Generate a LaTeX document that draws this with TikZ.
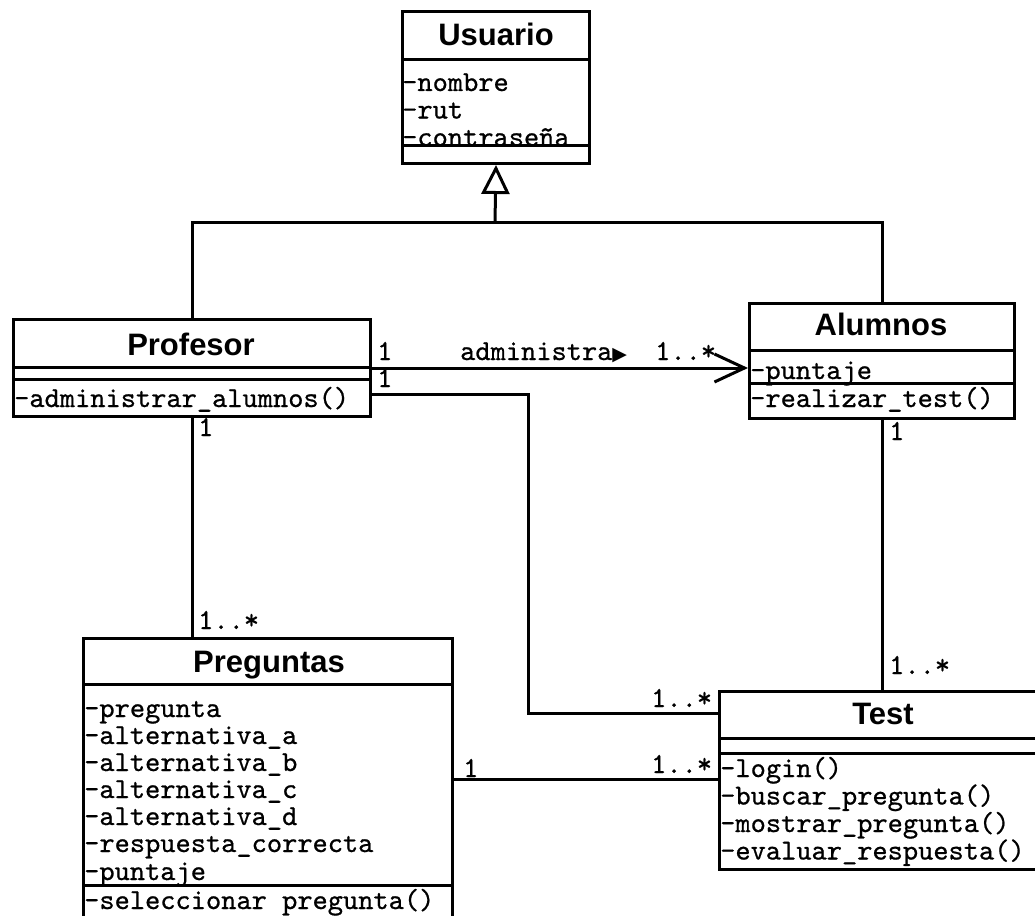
\documentclass[tikz,border=0pt]{standalone}
\usepackage{fontspec}
\newfontfamily\titlefont{Liberation Sans}
\newfontfamily\symfont{DejaVu Sans}
\newfontfamily\memfont[FakeBold=0.7]{lmmono10-regular.otf}
\usetikzlibrary{arrows.meta}

\tikzset{
  conn/.style={line width=3pt},
  classbox/.style={draw, line width=3pt, fill=white, inner sep=0pt, anchor=north west},
  ctitle/.style={font=\titlefont\bfseries\fontsize{31}{31}\selectfont, inner sep=0pt, anchor=base},
  member/.style={font=\memfont\fontsize{29}{30}\selectfont, anchor=base west, inner sep=0pt},
  mult/.style={font=\memfont\fontsize{29}{30}\selectfont, anchor=base west, inner sep=0pt},
}

\begin{document}
\begin{tikzpicture}[x=1pt,y=-1pt]
\useasboundingbox (0,0) rectangle (1035,915);
\fill[white] (0,0) rectangle (1035,915);
\clip (0,0) rectangle (1035,915);

% ---------- class boxes ----------
\node[classbox, minimum width=187pt, minimum height=152pt] (usu) at (401,10) {};
\node[classbox, minimum width=357pt, minimum height=97pt] (prof) at (12,318) {};
\node[classbox, minimum width=265pt, minimum height=115pt] (alum) at (748,302) {};
\node[classbox, minimum width=369pt, minimum height=300pt] (preg) at (82,637) {};
\node[classbox, minimum width=330pt, minimum height=178pt] (test) at (718,690) {};

% compartments
\draw[conn] (usu.west |- 0,60) -- (usu.east |- 0,60);
\draw[conn] (usu.west |- 0,145) -- (usu.east |- 0,145);
\draw[conn] (prof.west |- 0,367) -- (prof.east |- 0,367);
\draw[conn] (prof.west |- 0,379) -- (prof.east |- 0,379);
\draw[conn] (alum.west |- 0,350) -- (alum.east |- 0,350);
\draw[conn] (alum.west |- 0,383) -- (alum.east |- 0,383);
\draw[conn] (preg.west |- 0,684) -- (preg.east |- 0,684);
\draw[conn] (preg.west |- 0,885) -- (preg.east |- 0,885);
\draw[conn] (test.west |- 0,738) -- (test.east |- 0,738);
\draw[conn] (test.west |- 0,753) -- (test.east |- 0,753);

% titles
\node[ctitle] (usuT) at (496,46) {Usuario};
\node[ctitle] (profT) at (191,355) {Profesor};
\node[ctitle] (alumT) at (881,335) {Alumnos};
\node[ctitle] (pregT) at (269,672) {Preguntas};
\node[ctitle] (testT) at (883,724) {Test};

% members
\node[member] (u1) at (402,91) {-nombre};
\node[member] (u2) at (402,118.5) {-rut};
\node[member] (u3) at (402,146) {-contraseña};

\node[member] (p1) at (14,407) {-administrar\_alumnos()};

\node[member] (a1) at (750,379) {-puntaje};
\node[member] (a2) at (750,407) {-realizar\_test()};

\node[member] (q1) at (84,717) {-pregunta};
\node[member] (q2) at (84,744) {-alternativa\_a};
\node[member] (q3) at (84,771) {-alternativa\_b};
\node[member] (q4) at (84,798) {-alternativa\_c};
\node[member] (q5) at (84,825) {-alternativa\_d};
\node[member] (q6) at (84,852) {-respuesta\_correcta};
\node[member] (q7) at (84,880) {-puntaje};
\node[member] (q8) at (84,909) {-seleccionar pregunta()};

\node[member] (t1) at (720,777) {-login()};
\node[member] (t2) at (720,804.5) {-buscar\_pregunta()};
\node[member] (t3) at (720,832) {-mostrar\_pregunta()};
\node[member] (t4) at (720,859.5) {-evaluar\_respuesta()};

% ---------- connectors ----------
\coordinate (gen) at (495,222);
\draw[conn] (prof.north) |- (gen) -| (alum.north);
\draw[conn, -{Triangle[open, length=29pt, width=28pt, line width=3pt]}] (gen) -- (usu.south);

\draw[conn, -{Straight Barb[length=30pt, width=28pt, line width=3pt]}] (prof.east |- 0,368) -- (alum.west |- 0,368);
\draw[conn] (prof.east |- 0,394) -| (528,713) -- (test.west |- 0,713);
\draw[conn] (prof.south) -- (prof.south |- preg.north);
\draw[conn] (preg.east |- 0,779) -- (test.west |- 0,779);
\draw[conn] (alum.south) -- (alum.south |- test.north);

% ---------- labels ----------
\node[mult] (m1) at (377,360) {1};
\node[mult] (adm) at (460,360) {administra{\symfont\fontsize{19}{19}\selectfont ▶}};
\node[mult] (m2) at (655,360) {1..*};
\node[mult] (m3) at (377,387) {1};
\node[mult] (m4) at (198,436) {1};
\node[mult] (m5) at (198,629) {1..*};
\node[mult] (m6) at (889,440) {1};
\node[mult] (m7) at (889,674) {1..*};
\node[mult] (m8) at (651,707) {1..*};
\node[mult] (m9) at (651,773) {1..*};
\node[mult] (m10) at (463,777) {1};
\end{tikzpicture}
\end{document}
